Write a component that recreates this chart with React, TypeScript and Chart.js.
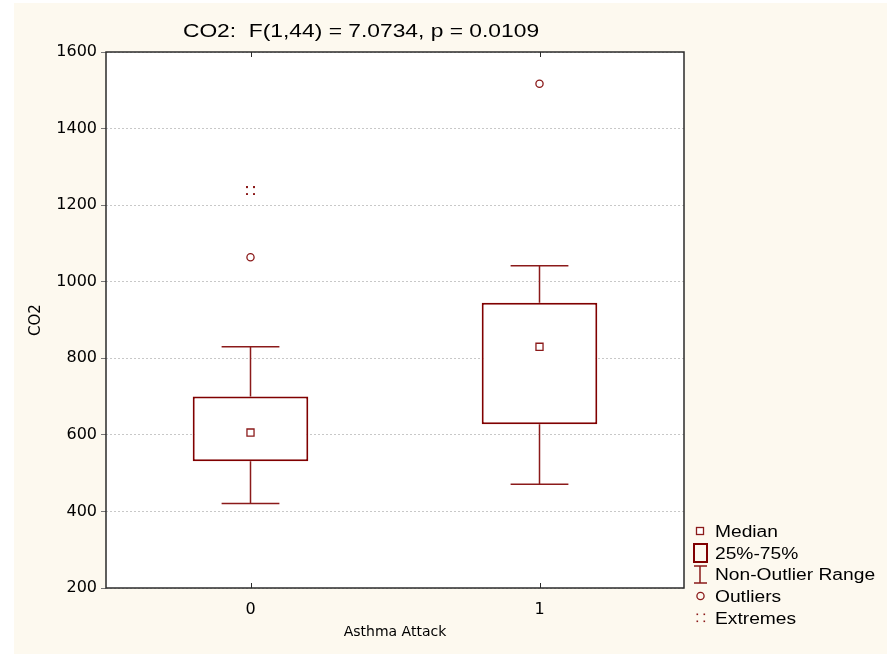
import React, { useEffect, useRef } from 'react';
import { Chart, registerables } from 'chart.js';

Chart.register(...registerables);

// ---------- data ----------
const categories = ['0', '1'];
const q1 = [531, 628];
const q3 = [700, 945];
const medians = [606, 830];
const whiskerLow = [421, 471];
const whiskerHigh = [830, 1042];
const outliers = [[1064], [1517]];
const extremes = [[1238], []];
const yTicks = [200, 400, 600, 800, 1000, 1200, 1400, 1600];
const titleText = 'CO2:  F(1,44) = 7.0734, p = 0.0109';
const xTitle = 'Asthma Attack';
const yTitle = 'CO2';
const legendLabels = ['Median', '25%-75%', 'Non-Outlier Range', 'Outliers', 'Extremes'];

// ---------- styles ----------
const MAROON = '#800000';
const RED = '#8b1a1a';
const CREAM = '#fdf9ef';
const TEXT_FONT = '"Liberation Sans", Arial, sans-serif';

function makeExtremeIcon(): HTMLCanvasElement {
  const c = document.createElement('canvas');
  c.width = 9;
  c.height = 9;
  const g = c.getContext('2d')!;
  g.fillStyle = RED;
  [[0, 0], [7, 0], [0, 7], [7, 7]].forEach(([x, y]) => g.fillRect(x, y, 2, 2));
  return c;
}

function stretchedText(ctx: CanvasRenderingContext2D, text: string, x: number, y: number, align: 'left' | 'center', size: number) {
  ctx.save();
  ctx.font = `${size}px ${TEXT_FONT}`;
  ctx.fillStyle = '#000';
  ctx.textBaseline = 'alphabetic';
  ctx.textAlign = align;
  ctx.translate(x, y);
  ctx.scale(1.2, 1);
  ctx.fillText(text, 0, 0);
  ctx.restore();
}

const backgroundPlugin = {
  id: 'pageBackground',
  beforeDraw(chart: any) {
    const { ctx, chartArea: a, width, height } = chart;
    ctx.save();
    ctx.fillStyle = '#ffffff';
    ctx.fillRect(0, 0, width, height);
    ctx.fillStyle = CREAM;
    ctx.fillRect(14, 3, width - 14, height - 3);
    ctx.fillStyle = '#ffffff';
    ctx.fillRect(a.left, a.top, a.right - a.left, a.bottom - a.top);
    ctx.restore();
  },
};

const whiskerPlugin = {
  id: 'whiskers',
  beforeDatasetsDraw(chart: any) {
    const { ctx } = chart;
    const xs = chart.scales.x;
    const ys = chart.scales.y;
    const catW = xs.width / categories.length;
    const half = catW * 0.1;
    ctx.save();
    ctx.strokeStyle = RED;
    ctx.lineWidth = 1.5;
    categories.forEach((_, i) => {
      const cx = xs.getPixelForValue(i);
      const yTop = ys.getPixelForValue(q3[i]);
      const yHi = ys.getPixelForValue(whiskerHigh[i]);
      const yBot = ys.getPixelForValue(q1[i]);
      const yLo = ys.getPixelForValue(whiskerLow[i]);
      ctx.beginPath();
      ctx.moveTo(cx, yTop);
      ctx.lineTo(cx, yHi);
      ctx.moveTo(cx - half, yHi);
      ctx.lineTo(cx + half, yHi);
      ctx.moveTo(cx, yBot);
      ctx.lineTo(cx, yLo);
      ctx.moveTo(cx - half, yLo);
      ctx.lineTo(cx + half, yLo);
      ctx.stroke();
    });
    ctx.restore();
  },
};

const framePlugin = {
  id: 'frameAndLegend',
  afterDraw(chart: any) {
    const { ctx, chartArea: a } = chart;
    const xs = chart.scales.x;
    ctx.save();
    // plot frame
    ctx.strokeStyle = '#2b2b2b';
    ctx.lineWidth = 1.5;
    ctx.strokeRect(a.left, a.top, a.right - a.left, a.bottom - a.top);
    // inward x tick marks at top and bottom
    ctx.lineWidth = 1;
    ctx.beginPath();
    categories.forEach((_, i) => {
      const px = Math.round(xs.getPixelForValue(i)) + 0.5;
      ctx.moveTo(px, a.bottom);
      ctx.lineTo(px, a.bottom - 5);
      ctx.moveTo(px, a.top);
      ctx.lineTo(px, a.top + 5);
    });
    ctx.stroke();

    // title
    stretchedText(ctx, titleText, 361, 37, 'center', 19);

    // legend
    const lx = 700;
    const rows = [531, 553, 574, 596, 618];
    // median square
    ctx.strokeStyle = RED;
    ctx.fillStyle = '#fff';
    ctx.lineWidth = 1.3;
    ctx.fillRect(lx - 3.5, rows[0] - 3.5, 7, 7);
    ctx.strokeRect(lx - 3.5, rows[0] - 3.5, 7, 7);
    // box
    ctx.strokeStyle = MAROON;
    ctx.lineWidth = 2;
    ctx.strokeRect(lx - 6, rows[1] - 9, 13, 18);
    // whisker
    ctx.strokeStyle = RED;
    ctx.lineWidth = 1.5;
    ctx.beginPath();
    ctx.moveTo(lx, rows[2] - 8);
    ctx.lineTo(lx, rows[2] + 9);
    ctx.moveTo(lx - 6, rows[2] - 8);
    ctx.lineTo(lx + 7, rows[2] - 8);
    ctx.moveTo(lx - 6, rows[2] + 9);
    ctx.lineTo(lx + 7, rows[2] + 9);
    ctx.stroke();
    // outlier circle
    ctx.lineWidth = 1.3;
    ctx.beginPath();
    ctx.arc(lx + 0.5, rows[3], 3.6, 0, Math.PI * 2);
    ctx.stroke();
    // extremes
    ctx.fillStyle = RED;
    [[-3.5, -3.5], [3.5, -3.5], [-3.5, 3.5], [3.5, 3.5]].forEach(([dx, dy]) => {
      ctx.fillRect(lx + 1 + dx - 1, rows[4] + dy - 1, 1.6, 1.6);
    });
    legendLabels.forEach((lab, i) => stretchedText(ctx, lab, 715, rows[i] + 6, 'left', 16));
    ctx.restore();
  },
};

export default function App() {
  const canvasRef = useRef<HTMLCanvasElement | null>(null);

  useEffect(() => {
    if (!canvasRef.current) return;
    const extremeIcon = makeExtremeIcon();
    const outlierPoints = outliers.flatMap((vals, i) => vals.map((v) => ({ x: categories[i], y: v })));
    const extremePoints = extremes.flatMap((vals, i) => vals.map((v) => ({ x: categories[i], y: v })));

    const chart = new Chart(canvasRef.current, {
      type: 'bar',
      data: {
        labels: categories,
        datasets: [
          {
            type: 'line',
            label: 'Median',
            data: medians,
            showLine: false,
            pointStyle: 'rect',
            pointRadius: 5,
            pointBorderWidth: 1.3,
            pointBorderColor: RED,
            pointBackgroundColor: '#ffffff',
            order: 1,
          } as any,
          {
            type: 'line',
            label: 'Outliers',
            data: outlierPoints,
            showLine: false,
            pointStyle: 'circle',
            pointRadius: 3.6,
            pointBorderWidth: 1.3,
            pointBorderColor: RED,
            pointBackgroundColor: '#ffffff',
            order: 1,
          } as any,
          {
            type: 'line',
            label: 'Extremes',
            data: extremePoints,
            showLine: false,
            pointStyle: extremeIcon,
            pointRadius: 5,
            order: 1,
          } as any,
          {
            type: 'bar',
            label: '25%-75%',
            data: categories.map((_, i) => [q1[i], q3[i]]),
            backgroundColor: '#ffffff',
            borderColor: MAROON,
            borderWidth: 2,
            borderSkipped: false,
            categoryPercentage: 1,
            barPercentage: 0.4,
            order: 3,
          } as any,
        ],
      },
      options: {
        animation: false,
        responsive: false,
        maintainAspectRatio: false,
        events: [],
        layout: { padding: { left: 0, top: 52, right: 203, bottom: 0 } },
        plugins: {
          legend: { display: false },
          title: { display: false },
          tooltip: { enabled: false },
        },
        scales: {
          x: {
            type: 'category',
            offset: true,
            grid: { display: false, drawTicks: false },
            border: { display: false },
            ticks: {
              color: '#000',
              font: { family: '"DejaVu Sans", sans-serif', size: 16 },
              padding: 12,
            },
            title: {
              display: true,
              text: xTitle,
              color: '#000',
              font: { family: '"DejaVu Sans", sans-serif', size: 14 },
              padding: { top: 13, bottom: 13 },
            },
            afterFit: (scale: any) => {
              scale.height = 66;
            },
          },
          y: {
            type: 'linear',
            min: yTicks[0],
            max: yTicks[yTicks.length - 1],
            afterBuildTicks: (scale: any) => {
              scale.ticks = yTicks.map((v) => ({ value: v }));
            },
            grid: {
              color: '#c8c8c8',
              lineWidth: 1,
              drawTicks: true,
              tickLength: 5,
              tickColor: '#777',
            },
            border: { display: false, dash: [2, 2] },
            ticks: {
              color: '#000',
              font: { family: '"DejaVu Sans", sans-serif', size: 16 },
              padding: 4,
              callback: (value: any) => String(value),
            },
            title: {
              display: true,
              text: yTitle,
              color: '#000',
              font: { family: '"DejaVu Sans", sans-serif', size: 15 },
              padding: { top: 27, bottom: 27 },
            },
            afterFit: (scale: any) => {
              scale.width = 106;
            },
          },
        },
      },
      plugins: [backgroundPlugin, whiskerPlugin, framePlugin],
    });
    return () => chart.destroy();
  }, []);

  return (
    <div style={{ position: 'fixed', left: 0, top: 0, width: 887, height: 654 }}>
      <canvas ref={canvasRef} width={887} height={654} style={{ display: 'block' }} />
    </div>
  );
}
